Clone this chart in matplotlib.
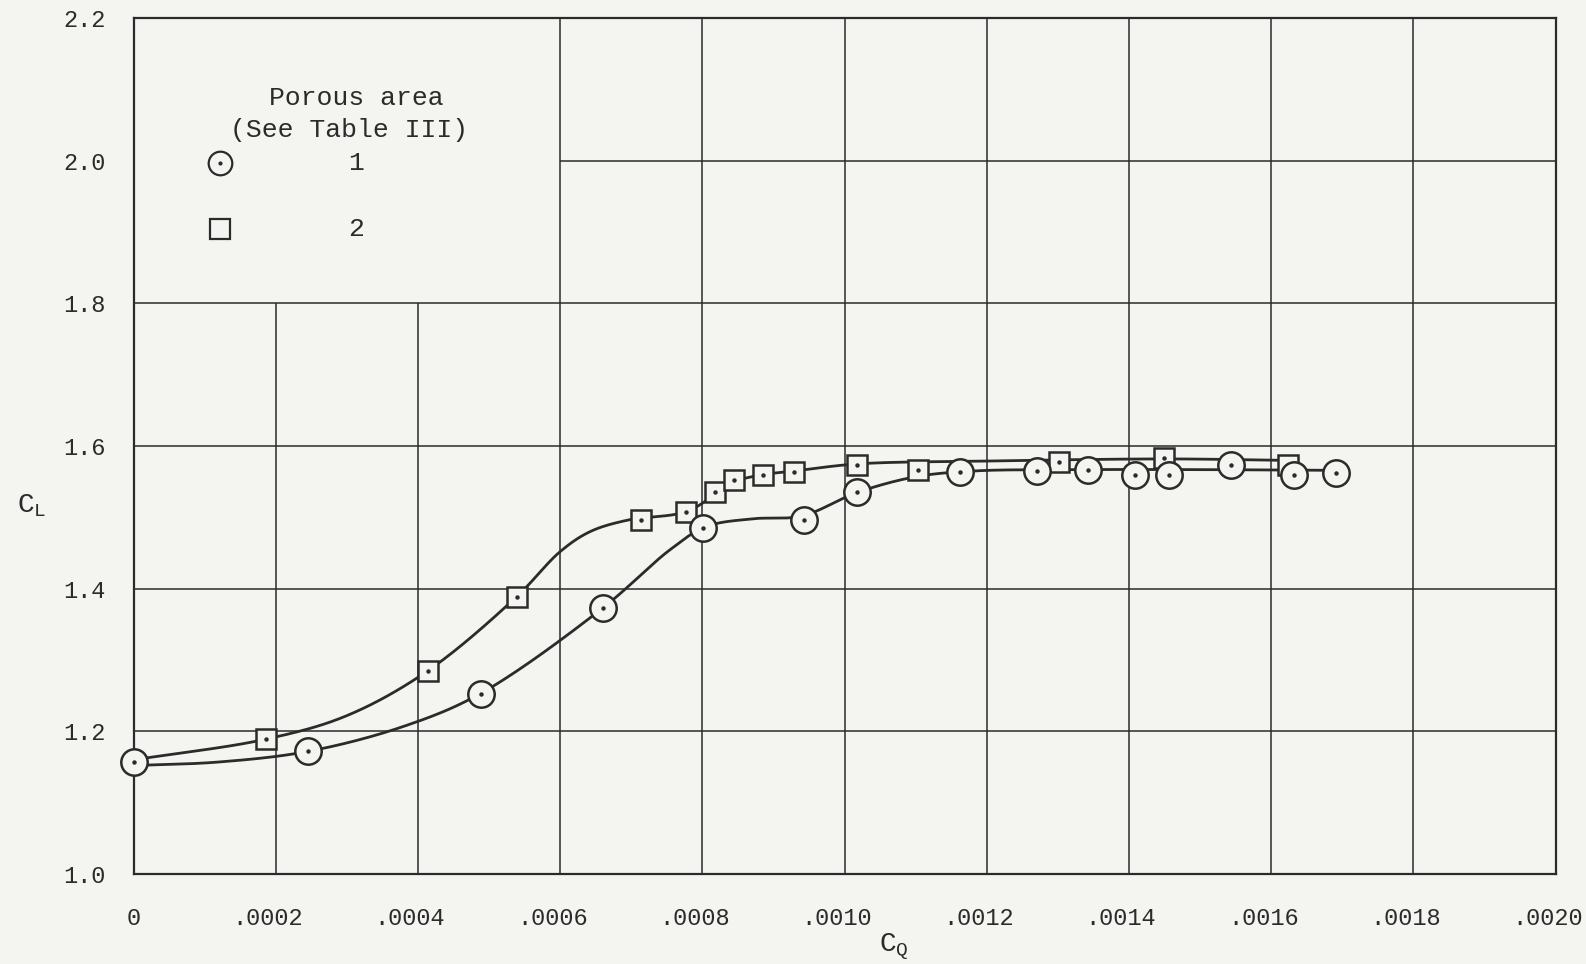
import numpy as np
import matplotlib
matplotlib.use('Agg')
import matplotlib.pyplot as plt
import matplotlib.transforms as mtransforms

# porous area 1 (circles)
cq_1 = [0.0, 0.000246, 0.000488, 0.00066, 0.000801, 0.000943, 0.001018, 0.001162,
        0.00127, 0.001343, 0.001408, 0.001457, 0.001543, 0.001632, 0.001691]
cl_1 = [1.157, 1.173, 1.253, 1.373, 1.485, 1.496, 1.535, 1.563,
        1.565, 1.567, 1.560, 1.560, 1.573, 1.560, 1.562]

# porous area 2 (squares)
cq_2 = [0.000186, 0.000414, 0.000539, 0.000714, 0.000777, 0.000818, 0.000845,
        0.000886, 0.000929, 0.001018, 0.001104, 0.001302, 0.00145, 0.001623]
cl_2 = [1.189, 1.285, 1.389, 1.496, 1.508, 1.535, 1.553,
        1.560, 1.563, 1.573, 1.567, 1.577, 1.584, 1.573]

# faired curves
fair_cq_1 = [0.0, 0.00012, 0.000246, 0.00038, 0.000488, 0.00066, 0.000755, 0.000805,
             0.00087, 0.00094, 0.001018, 0.0011, 0.00118, 0.0013, 0.0015, 0.00169]
fair_cl_1 = [1.152, 1.157, 1.172, 1.207, 1.253, 1.373, 1.455, 1.487,
             1.498, 1.502, 1.535, 1.557, 1.565, 1.567, 1.567, 1.566]
fair_cq_2 = [0.0, 0.000186, 0.0003, 0.000414, 0.000539, 0.0006, 0.000642, 0.000694,
             0.000777, 0.000818, 0.000845, 0.000886, 0.000929, 0.001018,
             0.0012, 0.00145, 0.00162]
fair_cl_2 = [1.16, 1.189, 1.222, 1.285, 1.389, 1.452, 1.480, 1.496,
             1.508, 1.532, 1.550, 1.560, 1.565, 1.575,
             1.579, 1.582, 1.580]

x_ticks = [0, 0.0002, 0.0004, 0.0006, 0.0008, 0.0010, 0.0012, 0.0014, 0.0016, 0.0018, 0.0020]
x_labels = ['0', '.0002', '.0004', '.0006', '.0008', '.0010', '.0012', '.0014', '.0016', '.0018', '.0020']
y_ticks = [1.0, 1.2, 1.4, 1.6, 1.8, 2.0, 2.2]
y_labels = ['1.0', '1.2', '1.4', '1.6', '1.8', '2.0', '2.2']

ink = '#2b2b2b'
paper = '#f4f4f1'
plt.rcParams['font.family'] = ['Liberation Mono', 'DejaVu Sans Mono']


def catmull(xs, ys, n=30):
    # centripetal catmull-rom, worked in roughly square units so the bends look like the pen curve
    sx, sy = 1406 / 0.002, 846 / 1.2
    p = np.column_stack([np.asarray(xs) * sx, np.asarray(ys) * sy])
    p = np.vstack([2 * p[0] - p[1], p, 2 * p[-1] - p[-2]])
    out = []
    for i in range(1, len(p) - 2):
        p0, p1, p2, p3 = p[i - 1], p[i], p[i + 1], p[i + 2]
        t0 = 0.0
        t1 = t0 + np.linalg.norm(p1 - p0) ** 0.5
        t2 = t1 + np.linalg.norm(p2 - p1) ** 0.5
        t3 = t2 + np.linalg.norm(p3 - p2) ** 0.5
        t = np.linspace(t1, t2, n, endpoint=False)[:, None]
        a1 = (t1 - t) / (t1 - t0) * p0 + (t - t0) / (t1 - t0) * p1
        a2 = (t2 - t) / (t2 - t1) * p1 + (t - t1) / (t2 - t1) * p2
        a3 = (t3 - t) / (t3 - t2) * p2 + (t - t2) / (t3 - t2) * p3
        b1 = (t2 - t) / (t2 - t0) * a1 + (t - t0) / (t2 - t0) * a2
        b2 = (t3 - t) / (t3 - t1) * a2 + (t - t1) / (t3 - t1) * a3
        out.append((t2 - t) / (t2 - t1) * b1 + (t - t1) / (t2 - t1) * b2)
    out.append(p[-2][None, :])
    out = np.vstack(out)
    return out[:, 0] / sx, out[:, 1] / sy


fig = plt.figure(figsize=(15.86, 9.64), dpi=100, facecolor=paper)
ax = fig.add_axes([0.0842, 0.0934, 0.8966, 0.8877], facecolor=paper)
ax.set_xlim(0, 0.002)
ax.set_ylim(1.0, 2.2)

# grid, with the legend block left clear
for xv in x_ticks[1:-1]:
    top = 1.8 if xv < 0.0005 else 2.2
    ax.vlines(xv, 1.0, top, color=ink, lw=1.1, zorder=1)
for yv in y_ticks[1:-1]:
    left = 0.0006 if yv > 1.9 else 0.0
    ax.hlines(yv, left, 0.002, color=ink, lw=1.1, zorder=1)

for s in ax.spines.values():
    s.set_color(ink)
    s.set_linewidth(1.6)

fx, fy = catmull(fair_cq_1, fair_cl_1)
ax.plot(fx, fy, color=ink, lw=2.0, zorder=2)
fx, fy = catmull(fair_cq_2, fair_cl_2)
ax.plot(fx, fy, color=ink, lw=2.0, zorder=2)

ax.plot(cq_2, cl_2, ls='none', marker='s', ms=14, mfc=paper, mec=ink, mew=1.8, zorder=3)
ax.plot(cq_2, cl_2, ls='none', marker='o', ms=2.2, color=ink, zorder=4)
ax.plot(cq_1, cl_1, ls='none', marker='o', ms=19, mfc=paper, mec=ink, mew=1.8, zorder=5, clip_on=False)
ax.plot(cq_1, cl_1, ls='none', marker='o', ms=2.2, color=ink, zorder=6, clip_on=False)

# legend
ax.text(0.000313, 2.088, 'Porous area', ha='center', va='center', fontsize=19, color=ink)
ax.text(0.000303, 2.043, '(See Table III)', ha='center', va='center', fontsize=19, color=ink)
ax.plot([0.000122], [1.997], marker='o', ms=17, mfc=paper, mec=ink, mew=1.6)
ax.plot([0.000122], [1.997], marker='o', ms=2, color=ink)
ax.plot([0.000122], [1.905], marker='s', ms=15, mfc=paper, mec=ink, mew=1.6)
ax.text(0.000313, 1.997, '1', ha='center', va='center', fontsize=19, color=ink)
ax.text(0.000313, 1.905, '2', ha='center', va='center', fontsize=19, color=ink)

ax.set_xticks(x_ticks)
ax.set_xticklabels(x_labels)
ax.set_yticks(y_ticks)
ax.set_yticklabels(y_labels)
ax.tick_params(length=0, labelsize=17, colors=ink)
ax.tick_params(axis='x', pad=24)
ax.tick_params(axis='y', pad=20)
shift = mtransforms.ScaledTranslation(-0.08, 0, fig.dpi_scale_trans)
for lab in ax.get_xticklabels()[1:]:
    lab.set_transform(lab.get_transform() + shift)

ax.text(-0.000143, 1.516, 'C$_\\mathregular{L}$', ha='center', va='center', fontsize=20, color=ink)
ax.text(0.00107, 0.898, 'C$_\\mathregular{Q}$', ha='center', va='center', fontsize=20, color=ink)

fig.savefig('out.png', dpi=100, facecolor=paper)
